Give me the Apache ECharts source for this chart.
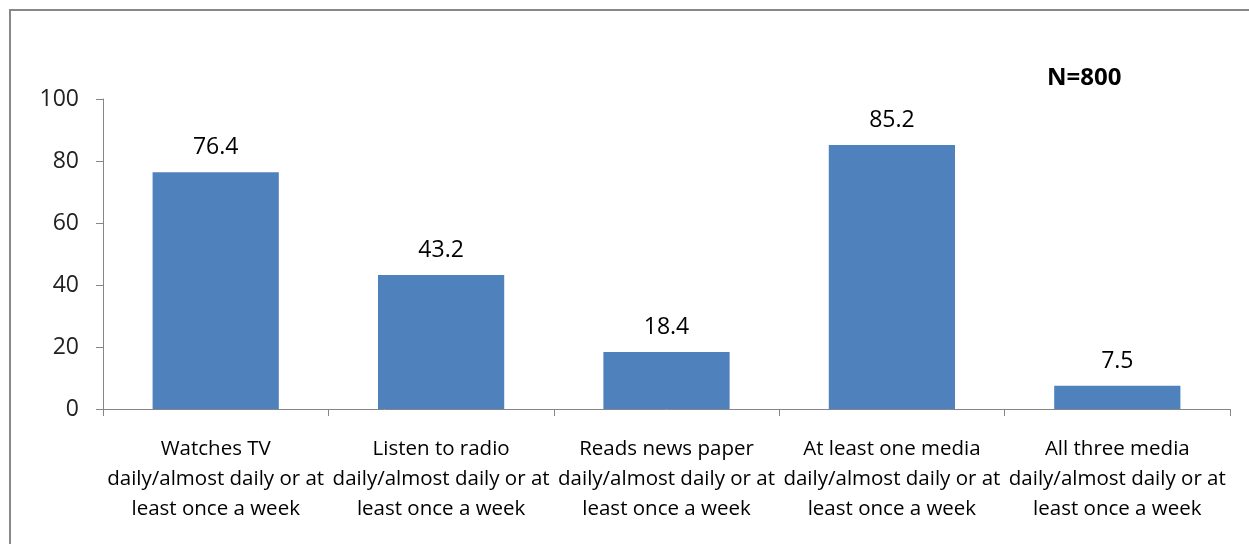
<!DOCTYPE html>
<html>
<head>
<meta charset="utf-8">
<script src="https://cdn.jsdelivr.net/npm/echarts@6/dist/echarts.min.js"></script>
<style>
  html, body { margin: 0; padding: 0; background: #fff; }
  #chart { width: 1249px; height: 544px; }
</style>
</head>
<body>
<div id="chart"></div>
<script>
// categories and values
var categories = [
  'Watches TV\ndaily/almost daily or at\nleast once a week',
  'Listen to radio\ndaily/almost daily or at\nleast once a week',
  'Reads news paper\ndaily/almost daily or at\nleast once a week',
  'At least one media\ndaily/almost daily or at\nleast once a week',
  'All three media\ndaily/almost daily or at\nleast once a week'
]
var values = [76.4, 43.2, 18.4, 85.2, 7.5]
var noteText = 'N=800'

var font = '"Open Sans", sans-serif'
var chart = echarts.init(document.getElementById('chart'))
chart.setOption({
  animation: false,
  textStyle: { fontFamily: font },
  graphic: [
    {
      type: 'rect',
      shape: { x: 10, y: 10, width: 1300, height: 600 },
      style: { fill: 'none', stroke: '#888', lineWidth: 2 }
    },
    {
      type: 'text',
      left: 1047,
      top: 66,
      style: { text: noteText, fontFamily: font, fontSize: 24, fontWeight: 'bold', fill: '#000' }
    }
  ],
  grid: { left: 103, right: 19, top: 99, bottom: 135 },
  xAxis: {
    type: 'category',
    data: categories,
    axisLine: { lineStyle: { color: '#868686', width: 1 } },
    axisTick: { show: true, length: 7, lineStyle: { color: '#868686' } },
    axisLabel: {
      interval: 0,
      color: '#000',
      fontSize: 20.5,
      lineHeight: 30,
      margin: 25
    }
  },
  yAxis: {
    type: 'value',
    min: 0,
    max: 100,
    interval: 20,
    splitLine: { show: false },
    axisLine: { show: true, lineStyle: { color: '#868686', width: 1 } },
    axisTick: { show: true, length: 7, lineStyle: { color: '#868686' } },
    axisLabel: { color: '#222', fontSize: 23, margin: 24 }
  },
  series: [{
    type: 'bar',
    data: values,
    barWidth: '56%',
    itemStyle: { color: '#4F81BD' },
    label: {
      show: true,
      position: 'top',
      distance: 13,
      color: '#000',
      fontSize: 23,
      fontFamily: font
    }
  }]
})
</script>
</body>
</html>
